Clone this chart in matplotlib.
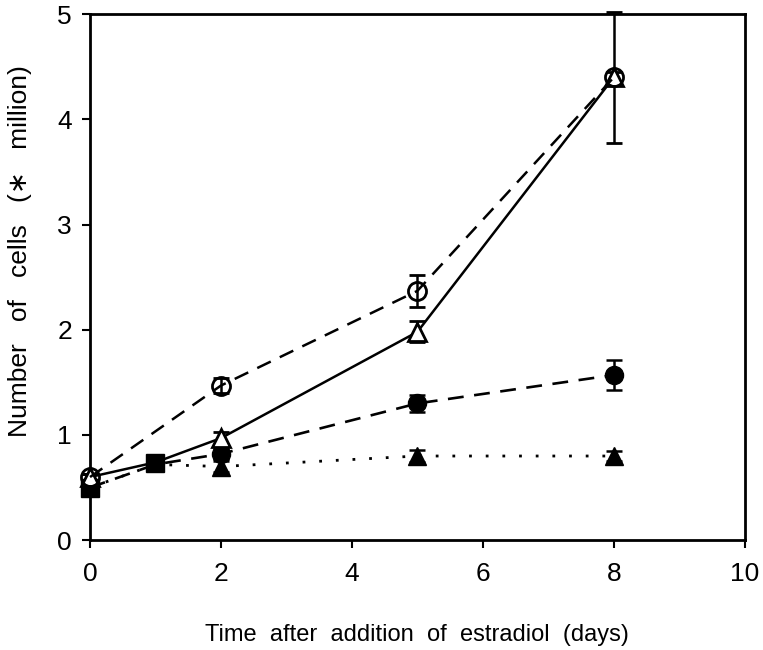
import matplotlib
matplotlib.use("Agg")
import matplotlib.pyplot as plt

plt.rcParams['font.family'] = ['Liberation Sans', 'DejaVu Sans']

# open circles, dashed
oc_x = [0, 2, 5, 8]
oc_y = [0.60, 1.47, 2.37, 4.40]
oc_e = [0.03, 0.07, 0.15, 0.05]

# open triangles, solid
ot_x = [0, 1, 2, 5, 8]
ot_y = [0.60, 0.74, 0.97, 1.98, 4.40]
ot_e = [0.03, 0.05, 0.06, 0.10, 0.62]

# filled circles, dashed
fc_x = [0, 1, 2, 5, 8]
fc_y = [0.50, 0.72, 0.82, 1.30, 1.57]
fc_e = [0.03, 0.05, 0.05, 0.08, 0.14]

# filled triangles, dotted
ft_x = [0, 1, 2, 5, 8]
ft_y = [0.50, 0.72, 0.70, 0.80, 0.80]
ft_e = [0.03, 0.05, 0.05, 0.06, 0.05]

# filled squares (early shared points)
sq_x = [0, 1]
sq_y = [0.50, 0.73]
sq_e = [0.04, 0.07]

x_ticks = [0, 2, 4, 6, 8, 10]
y_ticks = [0, 1, 2, 3, 4, 5]

fig = plt.figure(figsize=(7.63, 6.5), dpi=100)
ax = fig.add_axes([0.118, 0.169, 0.858, 0.809])

ekw = dict(ecolor='black', elinewidth=1.8, capsize=6, capthick=1.8, color='black', clip_on=False)

ax.errorbar(ft_x, ft_y, yerr=ft_e, linestyle=(0, (1, 5)), linewidth=2.0, marker='^',
            markersize=13, markerfacecolor='black', markeredgecolor='black',
            markevery=slice(2, None), zorder=3, **ekw)
ax.errorbar(fc_x, fc_y, yerr=fc_e, linestyle=(0, (6, 4)), linewidth=1.9, marker='o',
            markersize=13, markerfacecolor='black', markeredgecolor='black',
            markevery=slice(2, None), zorder=3, **ekw)
ax.errorbar(sq_x, sq_y, yerr=sq_e, linestyle='none', marker='s', markersize=13,
            markerfacecolor='black', markeredgecolor='black', zorder=4, **ekw)
ax.errorbar(ot_x, ot_y, yerr=ot_e, linestyle='-', linewidth=1.8, marker='^',
            markersize=13, markerfacecolor='white', markeredgecolor='black',
            markeredgewidth=2.0, markevery=[0, 2, 3, 4], zorder=5, **ekw)
ax.errorbar(oc_x, oc_y, yerr=oc_e, linestyle=(0, (6, 4)), linewidth=1.8, marker='o',
            markersize=13, markerfacecolor='none', markeredgecolor='black',
            markeredgewidth=2.0, zorder=5, **ekw)

ax.set_xlim(0, 10)
ax.set_ylim(0, 5)
ax.set_xticks(x_ticks)
ax.set_yticks(y_ticks)
ax.tick_params(axis='x', direction='out', length=6, width=1.5, labelsize=19, pad=10)
ax.tick_params(axis='y', direction='out', length=6, width=1.5, labelsize=19, pad=7)
for s in ax.spines.values():
    s.set_linewidth(2.0)

ax.set_xlabel('Time  after  addition  of  estradiol  (days)', fontsize=17)
ax.set_ylabel('Number   of   cells   (\u2217   million)', fontsize=19)
ax.xaxis.set_label_coords(0.5, -0.16)
ax.yaxis.set_label_coords(-0.088, 0.55)

fig.savefig('out.png', dpi=100)
